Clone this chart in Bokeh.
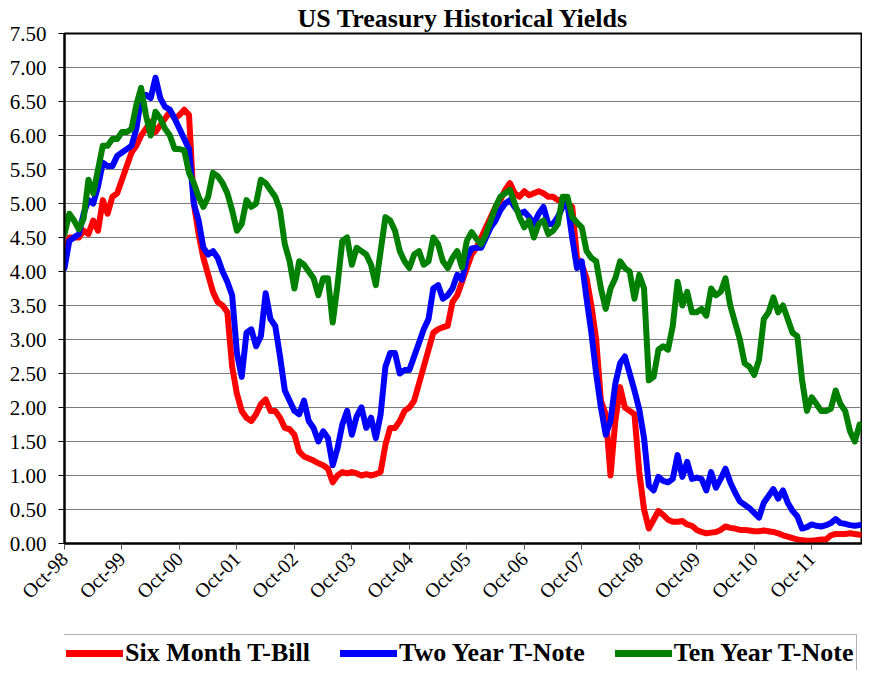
from math import pi
from bokeh.plotting import figure
from bokeh.layouts import column
from bokeh.models import Range1d, FixedTicker, NumeralTickFormatter, Legend, LegendItem
from bokeh.embed import file_html
from bokeh.resources import INLINE

# x tick labels (one per October, 12 months apart)
tick_labels = ["Oct-98", "Oct-99", "Oct-00", "Oct-01", "Oct-02", "Oct-03", "Oct-04",
               "Oct-05", "Oct-06", "Oct-07", "Oct-08", "Oct-09", "Oct-10", "Oct-11"]

series_names = ["Six Month T-Bill", "Two Year T-Note", "Ten Year T-Note"]

# monthly yields (%), starting Oct 1998
six_month = [
    4.25, 4.50, 4.50, 4.50, 4.60, 4.55, 4.75, 4.60, 5.05, 4.85, 5.10, 5.15,
    5.35, 5.55, 5.75, 5.85, 6.00, 6.10, 6.20, 6.05, 6.15, 6.25, 6.35, 6.25,
    6.30, 6.38, 6.30, 5.00, 4.55, 4.20, 3.95, 3.70, 3.55, 3.50, 3.40, 2.60,
    2.20, 1.95, 1.85, 1.80, 1.90, 2.05, 2.12, 1.95, 1.95, 1.85, 1.70, 1.68,
    1.60, 1.35, 1.28, 1.25, 1.22, 1.18, 1.15, 1.10, 0.90, 1.00, 1.05, 1.03,
    1.05, 1.03, 1.00, 1.02, 1.00, 1.02, 1.05, 1.45, 1.70, 1.70, 1.80, 1.95,
    2.00, 2.10, 2.35, 2.60, 2.85, 3.10, 3.15, 3.18, 3.20, 3.55, 3.65, 3.85,
    4.05, 4.25, 4.35, 4.50, 4.65, 4.80, 4.95, 5.05, 5.20, 5.30, 5.15, 5.10,
    5.18, 5.12, 5.15, 5.18, 5.15, 5.10, 5.10, 5.05, 5.05, 5.00, 4.95, 4.20,
    4.10, 3.90, 3.50, 3.00, 2.10, 1.90, 1.00, 1.80, 2.30, 2.00, 1.95, 1.90,
    1.05, 0.50, 0.22, 0.35, 0.48, 0.42, 0.35, 0.32, 0.32, 0.33, 0.28, 0.26,
    0.20, 0.17, 0.15, 0.16, 0.17, 0.20, 0.25, 0.23, 0.22, 0.20, 0.20, 0.19,
    0.18, 0.18, 0.19, 0.18, 0.17, 0.15, 0.12, 0.10, 0.08, 0.06, 0.05, 0.04,
    0.04, 0.05, 0.06, 0.06, 0.12, 0.14, 0.14, 0.14, 0.15, 0.14, 0.13,
]

two_year = [
    4.05, 4.45, 4.50, 4.55, 4.85, 5.05, 5.00, 5.25, 5.60, 5.55, 5.55, 5.70,
    5.75, 5.80, 5.85, 6.10, 6.55, 6.60, 6.55, 6.85, 6.55, 6.42, 6.38, 6.25,
    6.10, 5.95, 5.80, 5.00, 4.75, 4.35, 4.25, 4.30, 4.20, 4.00, 3.85, 3.65,
    2.80, 2.45, 3.10, 3.15, 2.90, 3.05, 3.68, 3.30, 3.20, 2.75, 2.25, 2.10,
    1.95, 1.90, 2.10, 1.80, 1.70, 1.50, 1.65, 1.55, 1.15, 1.40, 1.75, 1.95,
    1.60, 1.87, 2.00, 1.70, 1.85, 1.55, 1.90, 2.60, 2.80, 2.80, 2.50, 2.55,
    2.55, 2.75, 2.95, 3.15, 3.30, 3.75, 3.80, 3.60, 3.65, 3.75, 3.95, 3.88,
    4.20, 4.34, 4.35, 4.35, 4.50, 4.65, 4.75, 4.90, 5.00, 5.05, 4.95, 4.85,
    4.88, 4.80, 4.70, 4.85, 4.95, 4.70, 4.70, 4.80, 4.95, 5.00, 4.50, 4.05,
    4.15, 3.60, 3.10, 2.50, 2.00, 1.60, 1.80, 2.35, 2.65, 2.75, 2.50, 2.25,
    1.97, 1.55, 0.85, 0.78, 0.98, 0.92, 0.90, 0.95, 1.30, 0.98, 1.20, 0.95,
    0.97, 0.95, 0.78, 1.05, 0.82, 0.95, 1.10, 0.90, 0.75, 0.62, 0.57, 0.52,
    0.45, 0.38, 0.60, 0.70, 0.80, 0.66, 0.78, 0.60, 0.48, 0.40, 0.22, 0.24,
    0.28, 0.26, 0.25, 0.27, 0.30, 0.36, 0.30, 0.29, 0.27, 0.26, 0.27,
]

ten_year = [
    4.55, 4.85, 4.75, 4.62, 4.78, 5.35, 5.15, 5.50, 5.85, 5.85, 5.95, 5.95,
    6.05, 6.05, 6.10, 6.45, 6.70, 6.30, 6.00, 6.35, 6.25, 6.10, 6.00, 5.80,
    5.80, 5.78, 5.45, 5.30, 5.10, 4.95, 5.10, 5.45, 5.40, 5.30, 5.15, 4.90,
    4.60, 4.70, 5.05, 4.95, 5.00, 5.35, 5.30, 5.20, 5.10, 4.90, 4.40, 4.15,
    3.75, 4.15, 4.10, 4.00, 3.90, 3.65, 3.90, 3.90, 3.25, 3.80, 4.45, 4.50,
    4.10, 4.35, 4.30, 4.25, 4.10, 3.80, 4.30, 4.80, 4.75, 4.60, 4.30, 4.15,
    4.05, 4.25, 4.30, 4.10, 4.15, 4.50, 4.40, 4.15, 4.05, 4.20, 4.30, 4.06,
    4.45, 4.58, 4.48, 4.40, 4.55, 4.75, 4.95, 5.10, 5.15, 5.20, 5.00, 4.80,
    4.65, 4.75, 4.50, 4.70, 4.75, 4.55, 4.60, 4.70, 5.10, 5.10, 4.80, 4.72,
    4.65, 4.30, 4.20, 4.15, 3.75, 3.45, 3.75, 3.90, 4.15, 4.05, 4.00, 3.60,
    3.95, 3.75, 2.40, 2.45, 2.85, 2.90, 2.85, 3.20, 3.85, 3.50, 3.70, 3.40,
    3.40, 3.45, 3.35, 3.75, 3.65, 3.70, 3.90, 3.50, 3.25, 3.00, 2.65, 2.60,
    2.48, 2.70, 3.30, 3.40, 3.62, 3.40, 3.50, 3.30, 3.10, 3.05, 2.40, 1.95,
    2.15, 2.05, 1.95, 1.95, 1.98, 2.25, 2.05, 1.95, 1.65, 1.50, 1.75,
]

y_ticks = [0.0, 0.5, 1.0, 1.5, 2.0, 2.5, 3.0, 3.5, 4.0, 4.5, 5.0, 5.5, 6.0, 6.5, 7.0, 7.5]

months = list(range(len(six_month)))          # month offset from Oct 1998
tick_positions = [12 * i for i in range(len(tick_labels))]
colors = ["#FF0000", "#0000FF", "#008000"]
all_series = [six_month, two_year, ten_year]

FONT = "Liberation Serif"

p = figure(width=862, height=622, output_backend="svg", toolbar_location=None,
           x_range=Range1d(0, 166.4), y_range=Range1d(0, 7.5),
           min_border_left=64, min_border_right=1, min_border_top=0, min_border_bottom=79,
           background_fill_color="white", border_fill_color="white")

p.title.text = "US Treasury Historical Yields"
p.title.align = "center"
p.title.text_font = FONT
p.title.text_font_style = "bold"
p.title.text_font_size = "26px"
p.title.text_color = "black"
p.title.offset = 24
p.title.standoff = 2

for vals, col in zip(all_series, colors):
    p.line(months, vals, line_color=col, line_width=6,
           line_join="round", line_cap="round")

# y axis
p.yaxis.ticker = FixedTicker(ticks=y_ticks)
p.yaxis.formatter = NumeralTickFormatter(format="0.00")
p.yaxis.major_label_text_font = FONT
p.yaxis.major_label_text_font_size = "21px"
p.yaxis.major_label_text_color = "black"
p.yaxis.major_label_standoff = 12
p.yaxis.axis_line_width = 2
p.yaxis.axis_line_color = "black"
p.yaxis.major_tick_out = 6
p.yaxis.major_tick_in = 0
p.yaxis.major_tick_line_color = "black"
p.yaxis.minor_tick_line_color = None

# x axis
p.xaxis.ticker = FixedTicker(ticks=tick_positions)
p.xaxis.major_label_overrides = {pos: lab for pos, lab in zip(tick_positions, tick_labels)}
p.xaxis.major_label_orientation = pi / 4
p.xaxis.major_label_text_font = FONT
p.xaxis.major_label_text_font_size = "20px"
p.xaxis.major_label_text_color = "black"
p.xaxis.major_label_standoff = 6
p.xaxis.axis_line_width = 2
p.xaxis.axis_line_color = "black"
p.xaxis.major_tick_out = 6
p.xaxis.major_tick_in = 0
p.xaxis.major_tick_line_color = "#555555"
p.xaxis.minor_tick_line_color = None

# grid
p.xgrid.visible = False
p.ygrid.grid_line_color = "#7a7a7a"
p.ygrid.grid_line_width = 1

p.outline_line_color = "black"
p.outline_line_width = 2
p.outline_line_alpha = 1

# legend strip below the chart (series drawn outside its visible range,
# only their legend swatches show)
q = figure(width=862, height=48, output_backend="svg", toolbar_location=None,
           x_range=Range1d(-20, -10), y_range=Range1d(-20, -10), min_border=0,
           x_axis_location=None, y_axis_location=None,
           background_fill_color="white", border_fill_color="white")
q.grid.visible = False
q.outline_line_color = None
items = []
for name, vals, col in zip(series_names, all_series, colors):
    r = q.line(months, vals, line_color=col, line_width=7, line_cap="round")
    items.append(LegendItem(label=name, renderers=[r]))

legend = Legend(items=items, orientation="horizontal", location=(-2, -2))
legend.label_text_font = FONT
legend.label_text_font_style = "bold"
legend.label_text_font_size = "26px"
legend.label_text_color = "black"
legend.glyph_width = 57
legend.glyph_height = 20
legend.label_standoff = 2
legend.spacing = 30
legend.padding = 3
legend.margin = 0
legend.border_line_color = "#666666"
legend.border_line_width = 1.5
legend.background_fill_color = "white"
legend.background_fill_alpha = 1
q.add_layout(legend)

open("out.html", "w").write(file_html(column(p, q, spacing=0), INLINE))
